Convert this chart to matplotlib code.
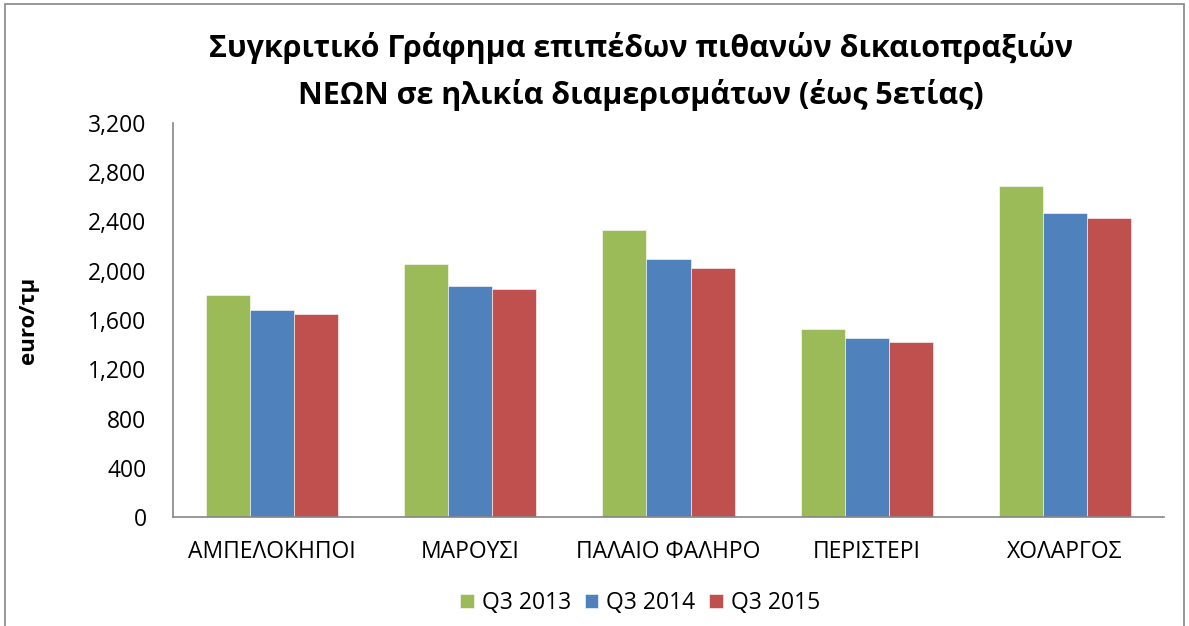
import matplotlib
matplotlib.use('Agg')
import matplotlib.pyplot as plt
from matplotlib.patches import Rectangle
import numpy as np

plt.rcParams['font.family'] = ['Open Sans', 'DejaVu Sans']

# Data (euro per sq.m.)
areas = ['ΑΜΠΕΛΟΚΗΠΟΙ', 'ΜΑΡΟΥΣΙ', 'ΠΑΛΑΙΟ ΦΑΛΗΡΟ', 'ΠΕΡΙΣΤΕΡΙ', 'ΧΟΛΑΡΓΟΣ']
series_names = ['Q3 2013', 'Q3 2014', 'Q3 2015']
q3_2013 = [1800, 2057, 2330, 1530, 2684]
q3_2014 = [1681, 1878, 2097, 1452, 2470]
q3_2015 = [1649, 1854, 2022, 1419, 2425]
colors = ['#9BBB59', '#4F81BD', '#C0504D']

title_lines = ['Συγκριτικό Γράφημα επιπέδων πιθανών δικαιοπραξιών',
               'ΝΕΩΝ σε ηλικία διαμερισμάτων (έως 5ετίας)']

W, H = 1189, 626
fig = plt.figure(figsize=(W / 100, H / 100), dpi=100)
ax = fig.add_axes([173 / W, 1 - 517.3 / H, (1164 - 173) / W, (517.3 - 122.7) / H])

x = np.arange(len(areas))
width = 0.222
for i, (vals, name) in enumerate(zip([q3_2013, q3_2014, q3_2015], series_names)):
    ax.bar(x + (i - 1) * width, vals, width, color=colors[i], label=name,
           edgecolor='white', linewidth=0.4)

ax.set_xlim(-0.5, len(areas) - 0.5)
ax.set_ylim(0, 3200)
ax.set_yticks(range(0, 3201, 400))
ax.set_yticklabels([f'{v:,}' for v in range(0, 3201, 400)])
ax.set_xticks(x)
ax.set_xticklabels(areas)
ax.tick_params(axis='both', length=0, labelsize=16.5)
ax.tick_params(axis='y', pad=19)
ax.tick_params(axis='x', pad=16)

for s in ['top', 'right']:
    ax.spines[s].set_visible(False)
for s in ['left', 'bottom']:
    ax.spines[s].set_color('#868686')
    ax.spines[s].set_linewidth(1.2)

ax.set_ylabel('euro/τμ', fontsize=16, fontweight='bold')
ax.yaxis.set_label_coords((39 - 173) / 991, 0.5)

# title, two lines centred over the chart
fig.text(641 / W, 1 - 57 / H, title_lines[0], ha='center', va='baseline',
         fontsize=22, fontweight='bold')
fig.text(641 / W, 1 - 104 / H, title_lines[1], ha='center', va='baseline',
         fontsize=22, fontweight='bold')

fig.legend(*ax.get_legend_handles_labels(), loc='center',
           bbox_to_anchor=(640 / W, 1 - 603 / H), ncol=3, frameon=False,
           fontsize=16.5, handlelength=0.6, handleheight=0.6, handletextpad=0.35,
           columnspacing=0.6)

fig.patches.append(Rectangle((5 / W, -0.05), 1 - 10 / W, 1.05 - 4 / H,
                             transform=fig.transFigure, fill=False,
                             edgecolor='#868686', linewidth=1.2))

fig.savefig('out.png', dpi=100)
